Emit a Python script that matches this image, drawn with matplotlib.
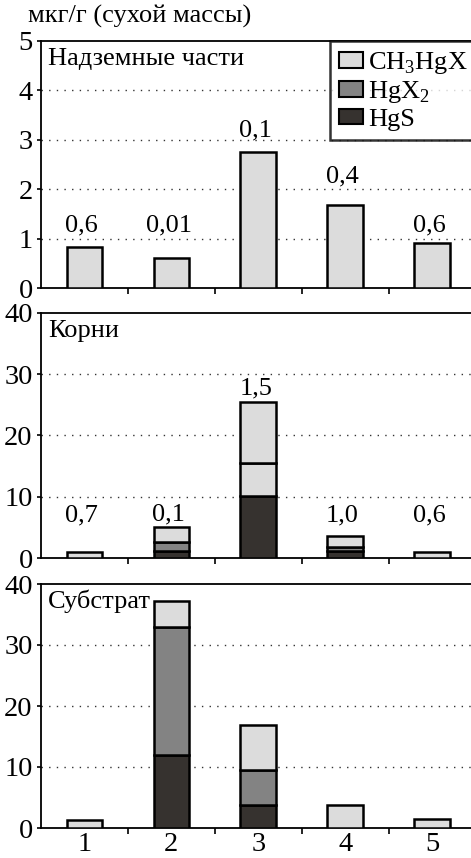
import matplotlib
matplotlib.use("Agg")
import matplotlib.pyplot as plt
import numpy as np
from matplotlib.patches import Patch

plt.rcParams['font.family'] = ['Liberation Serif', 'DejaVu Serif']
plt.rcParams['mathtext.fontset'] = 'custom'
plt.rcParams['mathtext.rm'] = 'Liberation Serif'

categories = ['1', '2', '3', '4', '5']
series_names = [r'CH$_\mathregular{3}$HgX', r'HgX$_\mathregular{2}$', 'HgS']

panel_titles = ['Надземные части', 'Корни', 'Субстрат']
panel_ymax = [5, 40, 40]
panel_yticks = [[0, 1, 2, 3, 4, 5], [0, 10, 20, 30, 40], [0, 10, 20, 30, 40]]

# Надземные части
above_hgs = [0, 0, 0, 0, 0]
above_hgx2 = [0, 0, 0, 0, 0]
above_ch3 = [0.83, 0.61, 2.76, 1.69, 0.91]
above_labels = ['0,6', '0,01', '0,1', '0,4', '0,6']
above_label_y = [1.14, 1.14, 3.06, 2.13, 1.14]

# Корни
roots_hgs = [0, 1.2, 10.2, 1.2, 0]
roots_hgx2 = [0, 1.5, 5.4, 0.65, 0]
roots_ch3 = [0.98, 2.45, 9.9, 1.75, 1.0]
roots_labels = ['0,7', '0,1', '1,5', '1,0', '0,6']
roots_label_y = [6.0, 6.1, 26.7, 6.0, 6.0]

# Субстрат
sub_hgs = [0, 11.95, 3.76, 0, 0]
sub_hgx2 = [0, 21.05, 5.8, 0, 0]
sub_ch3 = [1.3, 4.2, 7.35, 3.76, 1.47]

panels = [
    (above_hgs, above_hgx2, above_ch3, above_labels, above_label_y),
    (roots_hgs, roots_hgx2, roots_ch3, roots_labels, roots_label_y),
    (sub_hgs, sub_hgx2, sub_ch3, None, None),
]

c_light = '#dcdcdc'
c_mid = '#838383'
c_dark = '#36322f'
# in the original, the middle segment of root bar 3 is drawn in the light shade
face_override = {(1, 2, 1): c_light}

W, H = 471, 858
fig = plt.figure(figsize=(W / 100, H / 100), dpi=100)

left = 41 / W
width = (475.5 - 41) / W
boxes = [(41, 288.3), (312.7, 558.3), (584, 828)]

fs_tick = 20.5
fs = 19
x = np.arange(1, 6)
axes = []
for pi, (hgs, hgx2, ch3, labels, label_y) in enumerate(panels):
    top_px, bot_px = boxes[pi]
    ax = fig.add_axes([left, 1 - bot_px / H, width, (bot_px - top_px) / H])
    axes.append(ax)
    ax.set_xlim(0.5, 5.5)
    ax.set_ylim(0, panel_ymax[pi])
    ax.set_yticks(panel_yticks[pi])
    ax.set_yticklabels([str(t) for t in panel_yticks[pi]], fontsize=fs_tick)
    for t in panel_yticks[pi][1:-1]:
        ax.axhline(t, color='#333333', lw=1.0, ls=(0, (1, 4.5)), zorder=1)
    layers = [hgs, hgx2, ch3]
    colors = [c_dark, c_mid, c_light]
    bottom = np.zeros(5)
    for li in range(3):
        vals = np.array(layers[li], dtype=float)
        for bi in range(5):
            if vals[bi] > 0:
                fc = face_override.get((pi, bi, li), colors[li])
                ax.bar(x[bi], vals[bi], bottom=bottom[bi], width=0.41,
                       color=fc, edgecolor='black', linewidth=1.8, zorder=3)
        bottom += vals
    if labels is not None:
        for bi in range(5):
            ax.text(x[bi] - 0.03, label_y[bi], labels[bi], ha='center',
                    va='baseline', fontsize=fs, zorder=4)
    ax.text(7 / (475.5 - 41), 1 - 24 / (bot_px - top_px), panel_titles[pi],
            transform=ax.transAxes, fontsize=fs, ha='left', va='baseline',
            zorder=5, bbox=dict(facecolor='white', edgecolor='none', pad=0.5))
    for s in ['left', 'bottom', 'top']:
        ax.spines[s].set_linewidth(1.3)
    ax.spines['right'].set_visible(False)
    ax.set_xticks(x)
    ax.set_xticks([1.5, 2.5, 3.5, 4.5], minor=True)
    ax.tick_params(axis='x', which='major', length=0, pad=3, labelsize=fs_tick)
    ax.tick_params(axis='x', which='minor', length=4, width=1.2, direction='out')
    ax.tick_params(axis='y', length=3, width=1.2, pad=3)
    if pi < 2:
        ax.set_xticklabels([])
    else:
        ax.set_xticklabels(categories)

handles = [Patch(facecolor=c_light, edgecolor='black', linewidth=1.5),
           Patch(facecolor=c_mid, edgecolor='black', linewidth=1.5),
           Patch(facecolor=c_dark, edgecolor='black', linewidth=1.5)]
leg = axes[0].legend(handles, series_names, loc='upper left',
                     bbox_to_anchor=((330 - 41) / (475.5 - 41), 1.0),
                     fontsize=fs, frameon=True, fancybox=False,
                     handlelength=0.9, handleheight=0.55, handletextpad=0.18,
                     labelspacing=0.12, borderpad=0.35, borderaxespad=0)
leg.get_frame().set_edgecolor('black')
leg.get_frame().set_linewidth(1.8)
leg.set_zorder(6)

fig.text(28 / W, 1 - 23 / H, 'мкг/г (сухой массы)', fontsize=fs,
         ha='left', va='baseline')

fig.savefig('out.png', dpi=100)
